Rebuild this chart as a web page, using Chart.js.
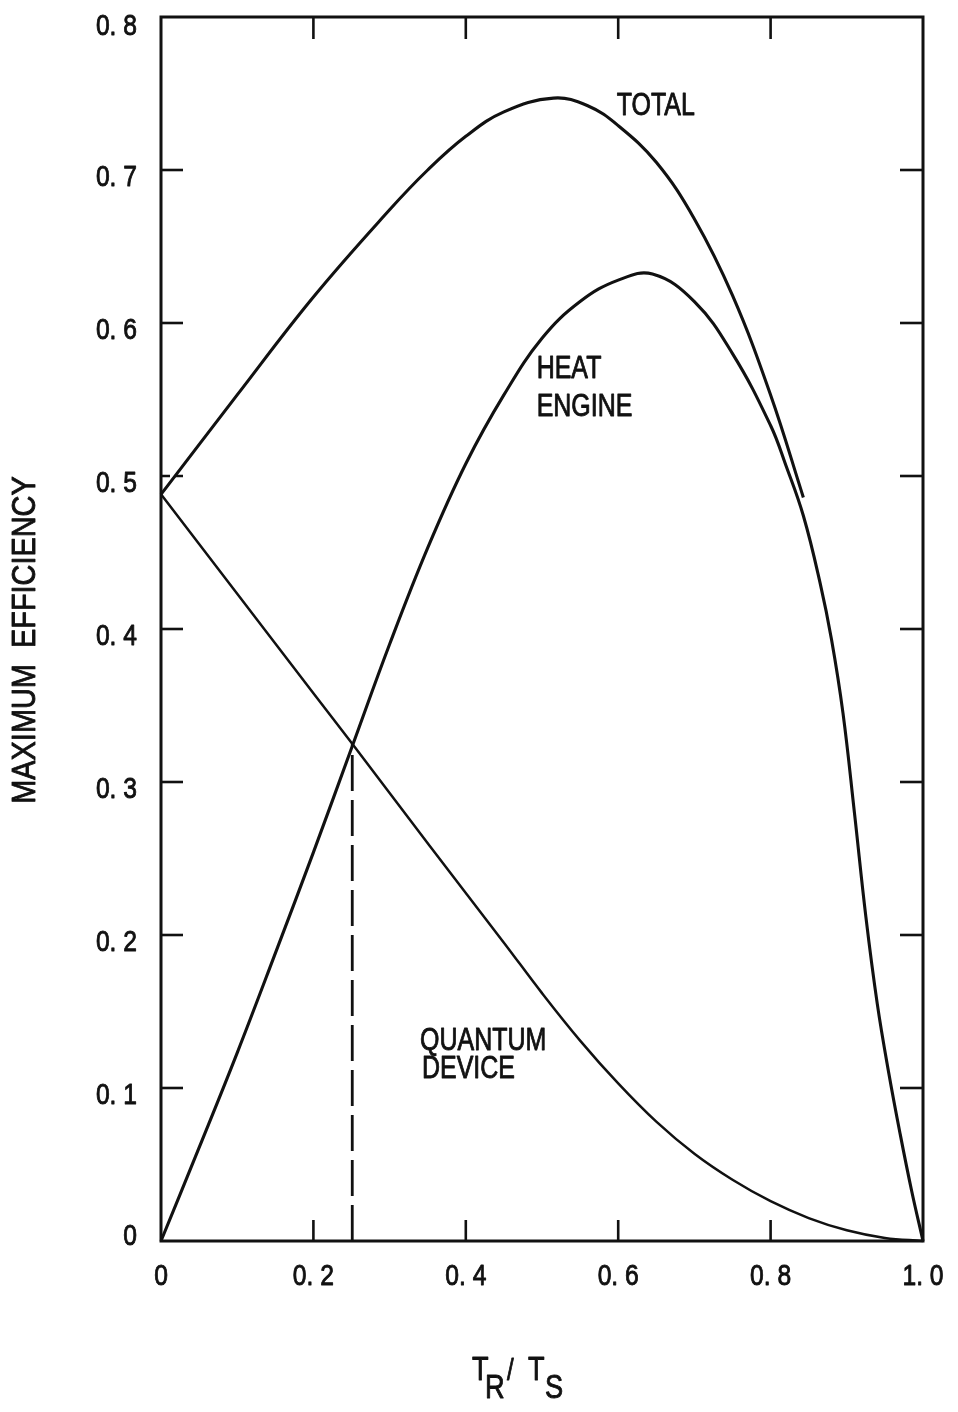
<!DOCTYPE html>
<html>
<head>
<meta charset="utf-8">
<script src="https://cdn.jsdelivr.net/npm/chart.js@4.4.1/dist/chart.umd.min.js"></script>
<style>
  html, body { margin: 0; background: #fff; }
  #wrap { width: 958px; height: 1412px; }
</style>
</head>
<body>
<div id="wrap"><canvas id="c" width="958" height="1412"></canvas></div>
<script>
// values (x = TR/TS, y = max efficiency)
const heatX = [0, 0.05, 0.1, 0.15, 0.2, 0.25, 0.3, 0.35, 0.4, 0.45, 0.5, 0.55, 0.6, 0.645, 0.7, 0.75, 0.8, 0.82, 0.843, 0.865, 0.88, 0.895, 0.91, 0.925, 0.94, 0.955, 0.97, 0.985, 1.0];
const heatY = [0, 0.061, 0.123, 0.188, 0.254, 0.322, 0.390, 0.453, 0.508, 0.553, 0.590, 0.614, 0.628, 0.632, 0.614, 0.580, 0.533, 0.507, 0.474, 0.430, 0.393, 0.345, 0.280, 0.212, 0.155, 0.110, 0.070, 0.033, 0];
const quantX = [0, 0.1, 0.2, 0.251, 0.353, 0.45, 0.5, 0.55, 0.6, 0.65, 0.7, 0.75, 0.8, 0.85, 0.9, 0.95, 1.0];
const quantY = [0.488, 0.423, 0.358, 0.325, 0.258, 0.195, 0.162, 0.131, 0.103, 0.078, 0.057, 0.040, 0.026, 0.015, 0.007, 0.002, 0];
const totalX = [0, 0.1, 0.2, 0.3, 0.35, 0.4, 0.45, 0.515, 0.56, 0.6, 0.65, 0.7, 0.75, 0.8, 0.843];
const totalY = [0.488, 0.553, 0.617, 0.674, 0.700, 0.722, 0.738, 0.747, 0.742, 0.729, 0.705, 0.668, 0.618, 0.553, 0.486];
const dropX = [0.251, 0.251];
const dropY = [0, 0.325];

const xTicks = [0, 0.2, 0.4, 0.6, 0.8, 1.0];
const xTickLabels = ['0', '0. 2', '0. 4', '0. 6', '0. 8', '1. 0'];
const yTicks = [0, 0.1, 0.2, 0.3, 0.4, 0.5, 0.6, 0.7, 0.8];
const yTickLabels = ['0', '0. 1', '0. 2', '0. 3', '0. 4', '0. 5', '0. 6', '0. 7', '0. 8'];
const yTitle = 'MAXIMUM  EFFICIENCY';
const curveNotes = [
  { text: 'TOTAL', x: 0.598, y: 0.736 },
  { text: 'HEAT', x: 0.493, y: 0.564 },
  { text: 'ENGINE', x: 0.493, y: 0.539 },
  { text: 'QUANTUM', x: 0.340, y: 0.125 },
  { text: 'DEVICE', x: 0.3425, y: 0.1065 }
];

const INK = '#111';
const FONT = '"Liberation Sans", Arial, sans-serif';
const pts = (xs, ys) => xs.map((x, i) => ({ x, y: ys[i] }));

// condensed, slightly heavy lettering like the original figure
function txt(ctx, s, px, py, size, sx, align, rot) {
  ctx.save();
  ctx.font = size + 'px ' + FONT;
  ctx.translate(px, py);
  if (rot) ctx.rotate(rot);
  ctx.scale(sx, 1);
  ctx.textAlign = align || 'left';
  ctx.lineWidth = 0.9; ctx.lineJoin = 'round';
  ctx.fillText(s, 0, 0); ctx.strokeText(s, 0, 0);
  ctx.restore();
}
function seg(ctx, x1, y1, x2, y2) { ctx.beginPath(); ctx.moveTo(x1, y1); ctx.lineTo(x2, y2); ctx.stroke(); }

const frame = {
  id: 'frame',
  afterDatasetsDraw(chart) {
    const { ctx, chartArea: a, scales: { x, y } } = chart;
    ctx.save();
    ctx.strokeStyle = INK; ctx.fillStyle = INK; ctx.lineCap = 'butt';
    ctx.lineWidth = 3;
    ctx.strokeRect(a.left, a.top, a.right - a.left, a.bottom - a.top);
    // inward ticks
    ctx.lineWidth = 2.6;
    xTicks.forEach(v => {
      if (v <= 0 || v >= 1) return;
      const px = x.getPixelForValue(v);
      seg(ctx, px, a.bottom, px, a.bottom - 21);
      seg(ctx, px, a.top, px, a.top + 22);
    });
    yTicks.forEach(v => {
      if (v <= 0 || v >= 0.8) return;
      const py = y.getPixelForValue(v);
      if (v === 0.5) ctx.setLineDash([9, 5]);
      seg(ctx, a.left, py, a.left + 22, py);
      ctx.setLineDash([]);
      seg(ctx, a.right, py, a.right - 23, py);
    });
    // tick labels
    ctx.textBaseline = 'alphabetic';
    xTicks.forEach((v, i) => txt(ctx, xTickLabels[i], x.getPixelForValue(v), a.bottom + 44, 29, 0.85, 'center'));
    yTicks.forEach((v, i) => {
      const py = Math.max(a.top + 18, Math.min(a.bottom + 4, y.getPixelForValue(v) + 16));
      txt(ctx, yTickLabels[i], a.left - 24, py, 29, 0.85, 'right');
    });
    // axis titles
    const cx = (a.left + a.right) / 2;
    txt(ctx, 'T', cx - 70, a.bottom + 139, 34, 0.8);
    txt(ctx, 'R', cx - 57, a.bottom + 157, 34, 0.8);
    txt(ctx, '/', cx - 35, a.bottom + 139, 30, 0.8);
    txt(ctx, 'T', cx - 14, a.bottom + 139, 34, 0.8);
    txt(ctx, 'S', cx + 3, a.bottom + 157, 34, 0.8);
    ctx.textBaseline = 'middle';
    txt(ctx, yTitle, 26, 640, 34, 0.85, 'center', -Math.PI / 2);
    // curve labels
    ctx.textBaseline = 'alphabetic';
    curveNotes.forEach(n => txt(ctx, n.text, x.getPixelForValue(n.x), y.getPixelForValue(n.y), 32, 0.78));
    ctx.restore();
  }
};

const line = (data, w, extra) => Object.assign({
  data, borderColor: INK, borderWidth: w, pointRadius: 0, showLine: true,
  tension: 0.4, fill: false, clip: 4
}, extra || {});

new Chart(document.getElementById('c'), {
  type: 'scatter',
  data: {
    datasets: [
      line(pts(totalX, totalY), 3.1),
      line(pts(heatX, heatY), 3.1),
      line(pts(quantX, quantY), 2.5),
      line(pts(dropX, dropY), 2.8, { borderDash: [36, 9], tension: 0 })
    ]
  },
  options: {
    responsive: false,
    animation: false,
    layout: { padding: { left: 161, top: 17, right: 35, bottom: 171 } },
    plugins: { legend: { display: false }, tooltip: { enabled: false } },
    scales: {
      x: { type: 'linear', min: 0, max: 1, display: false },
      y: { type: 'linear', min: 0, max: 0.8, display: false }
    }
  },
  plugins: [frame]
});
</script>
</body>
</html>
